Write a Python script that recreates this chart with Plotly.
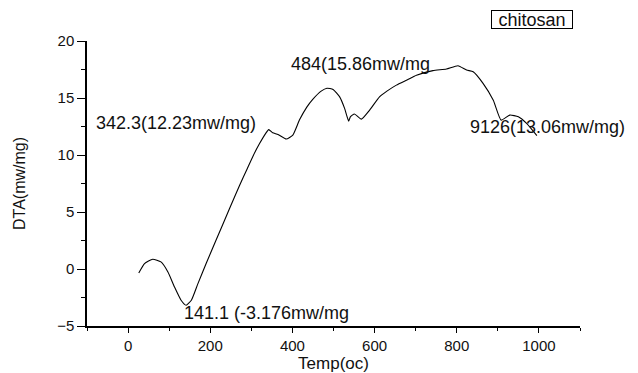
import plotly.graph_objects as go

# DTA curve of chitosan: temperature (°C) vs heat flow (mW/mg)
temp = [26, 40, 60, 80, 97, 113, 129, 141.1, 154, 170, 190, 214, 247, 271,
        290, 304, 320, 335, 342.3, 352, 365, 385, 401, 417, 435, 450, 470,
        484, 499, 515, 527, 537, 541, 551, 568, 588, 612, 630, 653, 680,
        702, 742, 775, 803, 824, 840, 864, 889, 908, 929, 950, 970, 995]
dta = [-0.35, 0.48, 0.86, 0.62, -0.26, -1.58, -2.74, -3.176, -2.74, -1.28,
       0.48, 2.52, 5.3, 7.3, 8.8, 9.9, 11.0, 11.9, 12.23, 11.95, 11.8, 11.4,
       11.75, 13.06, 14.2, 14.9, 15.6, 15.86, 15.75, 15.1, 14.09, 12.97,
       13.35, 13.6, 13.15, 13.94, 15.1, 15.6, 16.13, 16.6, 17.0, 17.4,
       17.54, 17.83, 17.45, 17.3, 16.28, 14.8, 13.06, 13.5, 13.35, 12.77,
       11.7]

# peak labels: text, anchor position (data units)
peak_text = ["342.3(12.23mw/mg)", "484(15.86mw/mg", "141.1 (-3.176mw/mg",
             "9126(13.06mw/mg)"]
peak_x = [-82, 391, 132, 827]
peak_y = [12.8, 17.98, -3.88, 12.45]

x_ticks = [0, 200, 400, 600, 800, 1000]
y_ticks = [-5, 0, 5, 10, 15, 20]

FONT = "Arial, Liberation Sans, sans-serif"

fig = go.Figure()
fig.add_trace(go.Scatter(
    x=temp, y=dta, mode="lines",
    line=dict(color="black", width=1.1, shape="spline", smoothing=0.5),
    showlegend=False, hoverinfo="skip",
))

for t, xv, yv in zip(peak_text, peak_x, peak_y):
    fig.add_annotation(x=xv, y=yv, xref="x", yref="y", text=t,
                       showarrow=False, xanchor="left", yanchor="middle",
                       font=dict(family=FONT, size=18, color="#111"))

# sample name box
fig.add_annotation(x=0.903, y=1.074, xref="paper", yref="paper",
                   text="chitosan", showarrow=False,
                   xanchor="center", yanchor="middle",
                   width=80, height=17, align="center",
                   font=dict(family=FONT, size=18, color="#111"),
                   bordercolor="black", borderwidth=1, borderpad=0,
                   bgcolor="white")

fig.update_layout(
    width=638, height=373,
    margin=dict(l=87, r=58, t=41, b=47, pad=0),
    paper_bgcolor="white", plot_bgcolor="white",
    font=dict(family=FONT, size=15, color="#111"),
    xaxis=dict(
        range=[-100, 1100], tickvals=x_ticks, ticks="outside", ticklen=5,
        tickwidth=1.3, tickcolor="black", showline=True, linecolor="black",
        linewidth=1.5, showgrid=False, zeroline=False, automargin=False,
        minor=dict(dtick=100, tick0=100, ticks="outside", ticklen=3,
                   tickcolor="black", tickwidth=1.2, showgrid=False),
        title=dict(text="Temp(oc)", standoff=3,
                   font=dict(family=FONT, size=17)),
        tickfont=dict(family=FONT, size=15),
    ),
    yaxis=dict(
        range=[-5, 20], tickvals=y_ticks, ticks="outside", ticklen=8,
        tickwidth=1.3, tickcolor="black", showline=True, linecolor="black",
        linewidth=1.5, showgrid=False, zeroline=False, automargin=False,
        minor=dict(dtick=2.5, tick0=-2.5, ticks="outside", ticklen=4,
                   tickcolor="black", tickwidth=1.2, showgrid=False),
        title=dict(text="DTA(mw/mg)", standoff=28,
                   font=dict(family=FONT, size=16)),
        tickfont=dict(family=FONT, size=15),
    ),
)

fig.write_html("out.html")
